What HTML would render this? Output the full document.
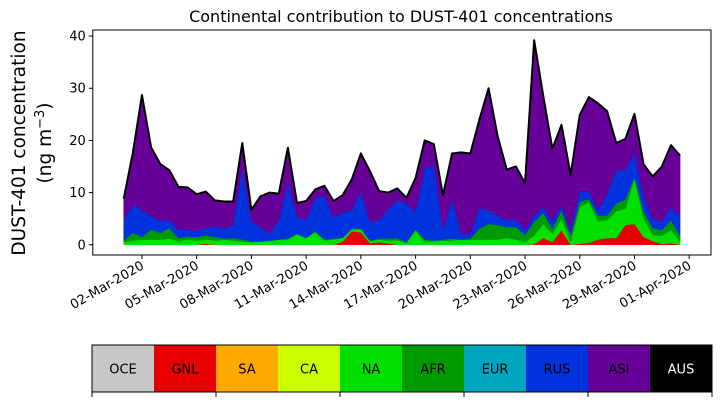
<!DOCTYPE html>
<html><head><meta charset="utf-8"><style>
body{margin:0;background:#fff;}
svg{display:block;font-family:"DejaVu Sans","Liberation Sans",sans-serif;}
</style></head><body>
<svg id="chart" width="721" height="402" viewBox="0 0 721 402" xmlns="http://www.w3.org/2000/svg">
<text x="401" y="22" font-size="16" text-anchor="middle" fill="#000">Continental contribution to DUST-401 concentrations</text>
<g font-size="18.5" text-anchor="middle" fill="#000">
<text transform="translate(25,143) rotate(-90)">DUST-401 concentration</text>
<text transform="translate(51,143) rotate(-90)">(ng m<tspan dy="-7" font-size="13">−3</tspan><tspan dy="7">)</tspan></text>
</g>
<g id="areas"></g>
<g id="axes"></g>
<g id="cbar"></g>
</svg>
<script>
const dates = ["02-Mar-2020","05-Mar-2020","08-Mar-2020","11-Mar-2020","14-Mar-2020","17-Mar-2020","20-Mar-2020","23-Mar-2020","26-Mar-2020","29-Mar-2020","01-Apr-2020"];
const tickDays = [1,4,7,10,13,16,19,22,25,28,31];
const yTicks = [0,10,20,30,40];
const regions = ["OCE","GNL","SA","CA","NA","AFR","EUR","RUS","ASI","AUS"];
const gnl = [0,0,0,0,0,0,0,0,0,.2,0,0,0,0,0,0,0,0,0,0,0,0,0,0,.6,2.6,2.4,.3,.5,.3,0,0,0,0,0,0,0,0,0,0,0,0,0,0,0,.1,1.3,.5,2.8,0,.2,.4,1.0,1.3,1.3,3.8,4.0,1.5,.7,.2,.3,0];
const na = [.5,.8,1.0,1.0,1.0,1.2,.7,1.0,.8,.8,.8,1.0,.8,.6,.5,.6,.7,1.0,1.0,2.0,1.3,2.4,.8,1.0,.7,.3,.6,.4,.5,.5,.9,.3,2.8,.5,.7,.8,.8,1.0,.9,1.0,1.0,1.0,1.3,1.0,.5,1.7,2.7,1.6,2.2,.5,7.0,7.8,3.5,3.4,5.1,3.1,8.6,3.6,1.2,1.5,2.5,.7];
const afr = [.3,1.5,.5,1.9,1.3,2.0,.6,.6,.7,.8,.7,.2,.5,.4,.1,.1,.1,0,.2,.1,0,.2,.2,.2,0,.2,.1,.1,.2,.4,.4,.2,.1,.5,.1,.2,.4,0,.3,2.1,3.0,2.8,2.1,2.4,1.4,2.6,2.1,1.0,1.6,1.3,1.0,.6,1.1,.9,1.5,1.8,.4,1.2,1.3,1.1,1.9,1.0];
const rus = [3.9,5.4,5.1,2.6,2.3,1.5,1.6,1.3,1.1,1.4,2.0,1.9,2.5,13.9,3.9,2.7,1.3,3.7,10.7,3.2,3.5,6.4,8.3,4.0,5.0,3.5,7.1,3.6,3.5,5.7,7.2,7.4,3.4,13.6,14.5,1.8,7.5,1.1,.9,4.0,2.6,1.8,1.3,1.4,.9,1.2,1.1,1.3,1.0,1.0,2.1,1.5,1.0,4.2,6.4,5.6,4.7,2.9,1.7,1.6,2.4,3.7];
const asi = [4.1,9.9,22.1,13.2,10.9,9.6,8.2,8.1,7.1,7.0,5.0,5.2,4.5,4.6,2.2,5.9,7.9,5.1,6.7,2.7,3.6,1.6,2.0,3.2,3.2,5.9,7.3,9.7,5.6,3.1,2.3,1.1,6.5,5.4,4.0,6.7,8.8,15.6,15.4,16.9,23.4,15.2,9.7,10.2,9.0,33.6,21.3,14.0,15.4,10.6,14.6,18.0,20.5,15.8,5.2,6.0,7.4,6.2,8.2,10.6,12.0,11.7];

const NS="http://www.w3.org/2000/svg";
const X0=92.8, X1=711, Y0=30, Y1=255, YMIN=-1.96, YMAX=41.16;
const n=gnl.length;
function xs(i){return X0+(X1-X0)*(0.05+0.9*i/(n-1));}
function xd(day){return xs(day*2);}
function ys(v){return Y1-(v-YMIN)/(YMAX-YMIN)*(Y1-Y0);}
function mk(tag,attrs,parent){const e=document.createElementNS(NS,tag);for(const k in attrs)e.setAttribute(k,attrs[k]);parent.appendChild(e);return e;}

const layers=[[gnl,"#e60000","gnl"],[na,"#00e000","na"],[afr,"#009900","afr"],[rus,"#0033dd","rus"],[asi,"#660099","asi"]];
const areas=document.getElementById('areas');
let base=new Array(n).fill(0);
layers.forEach(([arr,col,name])=>{
  const top=base.map((b,i)=>b+arr[i]);
  let d="M"+xs(0)+","+ys(top[0]);
  for(let i=1;i<n;i++)d+="L"+xs(i)+","+ys(top[i]);
  for(let i=n-1;i>=0;i--)d+="L"+xs(i)+","+ys(base[i]);
  const p=mk('path',{d:d+"Z",fill:col,stroke:col,'stroke-width':0.5},areas);
  
  
  base=top;
});
let dl="M"+xs(0)+","+ys(base[0]);
for(let i=1;i<n;i++)dl+="L"+xs(i)+","+ys(base[i]);
const tl=mk('path',{d:dl,fill:'none',stroke:'#000','stroke-width':2,'stroke-linejoin':'round'},areas);



const ax=document.getElementById('axes');
const fr=mk('rect',{x:X0,y:Y0,width:X1-X0,height:Y1-Y0,fill:'none',stroke:'#000','stroke-width':1},ax);


yTicks.forEach(v=>{
  const y=ys(v);
  mk('line',{x1:X0-4,x2:X0,y1:y,y2:y,stroke:'#000'},ax);
  const t=mk('text',{x:X0-7,y:y+4.5,'font-size':13,'text-anchor':'end',fill:'#000'},ax);
  t.textContent=v;
  
  
});
dates.forEach((lab,k)=>{
  const x=xd(tickDays[k]);
  mk('line',{x1:x,x2:x,y1:Y1,y2:Y1+4,stroke:'#000'},ax);
  const t=mk('text',{transform:`translate(${x+3},${Y1+13}) rotate(-30)`,'font-size':13,'text-anchor':'end',fill:'#000'},ax);
  t.textContent=lab;
  
  
});

const cb=document.getElementById('cbar');
const cols=["#c8c8c8","#e60000","#ffaa00","#ccff00","#00e000","#009900","#00a6bf","#0033dd","#660099","#000000"];
const CX0=92, CW=62, CY=345, CH=47;
regions.forEach((r,i)=>{
  const c=mk('rect',{x:CX0+i*CW,y:CY,width:CW,height:CH,fill:cols[i]},cb);
  
  
  const t=mk('text',{x:CX0+i*CW+CW/2,y:CY+CH/2+5,'font-size':13,'text-anchor':'middle',fill:r==="AUS"?"#fff":"#000"},cb);
  t.textContent=r;
  
  
});
mk('rect',{x:CX0,y:CY,width:CW*10,height:CH,fill:'none',stroke:'#000','stroke-width':1},cb);
for(let k=0;k<=5;k++){const x=CX0+k*CW*2;mk('line',{x1:x,x2:x,y1:CY+CH,y2:CY+CH+5,stroke:'#000'},cb);}
</script>
</body></html>
